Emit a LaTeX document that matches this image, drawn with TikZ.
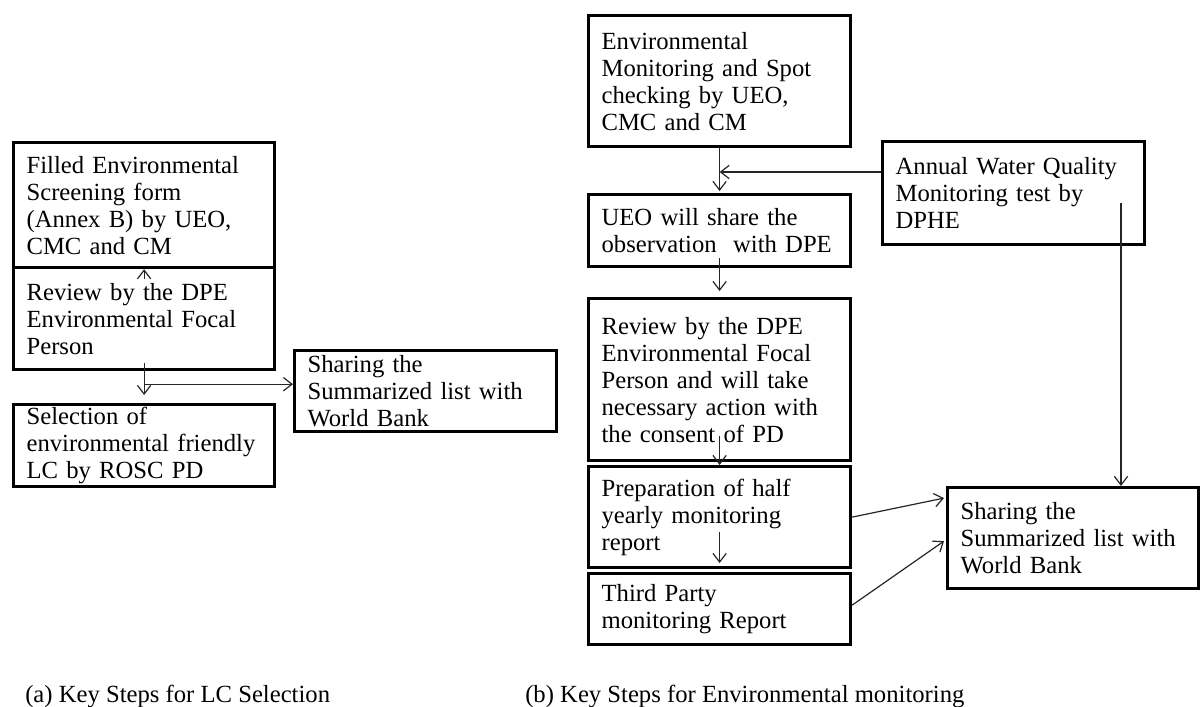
\documentclass[tikz,border=0pt]{standalone}
\usepackage{fontspec}
\setmainfont{Liberation Serif}
\usetikzlibrary{arrows.meta,calc}
\begin{document}
\begin{tikzpicture}[x=0.75pt,y=-0.75pt,
  stepbox/.style={draw=black, line width=2.4pt, anchor=north west, align=left,
    inner xsep=9.75pt, inner ysep=0pt, font=\fontsize{18.5}{20.25}\selectfont},
  wA/.style={minimum width=195.75pt, text width=176.25pt},
  wB/.style={minimum width=196.5pt, text width=177pt},
  wK/.style={minimum width=188.25pt, text width=168.75pt},
  arr/.style={line width=0.9pt, draw=black!85, -{Straight Barb[length=6.5pt,width=10pt]}},
  captext/.style={anchor=base west, inner sep=0pt, font=\fontsize{18.5}{20}\selectfont}]
\useasboundingbox (0,0) rectangle (1200,707);
% left part
\node[stepbox,wA,minimum height=93.75pt] (A) at (12,141) {Filled Environmental\\Screening form\\(Annex B) by UEO,\\CMC and CM};
\node[stepbox,wA,minimum height=76.5pt] (B) at (12,266) {Review by the DPE\\Environmental Focal\\Person};
\node[stepbox,wA,minimum height=61.5pt] (C) at (12,403) {Selection of\\environmental friendly\\LC by ROSC PD};
\node[stepbox,wB,minimum height=60.75pt] (D) at (293,349) {Sharing the\\Summarized list with\\World Bank};
% right part
\node[stepbox,wB,minimum height=98.25pt] (E) at (587,14) {Environmental\\Monitoring and Spot\\checking by UEO,\\CMC and CM};
\node[stepbox,wB,minimum height=54pt] (F) at (587,193) {UEO will share the\\observation~ with DPE};
\node[stepbox,wB,minimum height=77.25pt] (G) at (881,140) {Annual Water Quality\\Monitoring test by\\DPHE};
\node[stepbox,wB,minimum height=121.5pt] (H) at (587,297) {Review by the DPE\\Environmental Focal\\Person and will take\\necessary action with\\the consent of PD};
\node[stepbox,wB,minimum height=75.75pt] (I) at (587,465) {Preparation of half\\yearly monitoring\\report};
\node[stepbox,wB,minimum height=53.25pt] (J) at (587,572) {Third Party\\monitoring Report};
\node[stepbox,wK,minimum height=75.75pt] (K) at (946,486) {Sharing the\\Summarized list with\\World Bank};
% captions
\node[captext] (capa) at (25,702) {(a) Key Steps for LC Selection};
\node[captext] (capb) at (525,702) {(b) Key Steps for Environmental monitoring};
% connectors left
\draw[arr] ($(B.south)+(0,-8)$) -- ($(C.north)+(0,-8)$);
\coordinate (br) at ($(B.south)+(0,13)$);
\draw[arr] (br) -- (br -| D.west);
\draw[arr] ($(A.south)+(0,10)$) -- (A.south);
% connectors right
\draw[arr] (E.south) -- ($(F.north)+(0,-2)$);
\coordinate (g1) at ($(G.north west)+(0,32)$);
\draw[arr] (g1) -- (g1 -| E.south);
\draw[arr] ($(F.south)+(0,-10)$) -- ($(H.north)+(0,-6)$);
\draw[arr] ($(H.south)+(0,-26)$) -- (I.north);
\draw[arr] ($(I.south)+(0,-37)$) -- ($(J.north)+(0,-9)$);
\coordinate (g2) at ($(G.north west)+(240,63)$);
\draw[arr] (g2) -- (g2 |- K.north);
\draw[arr] (I.east) -- ($(K.west)+(-2,-40)$);
\draw[arr] ($(J.east)+(0,-4)$) -- ($(K.west)+(-2,3)$);
\end{tikzpicture}
\end{document}
